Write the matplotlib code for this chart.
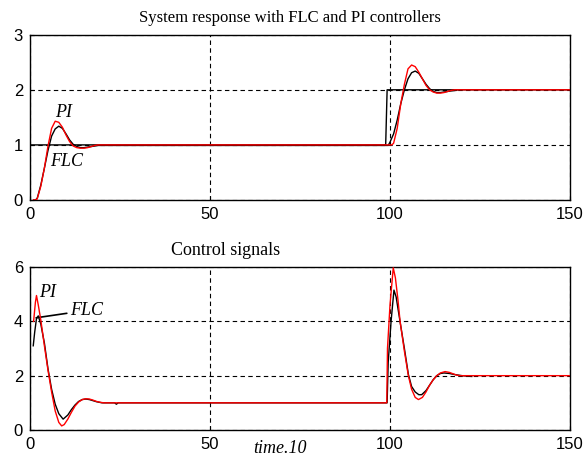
import matplotlib
matplotlib.use("Agg")
import matplotlib.pyplot as plt

# ---------------- data ----------------
# Top: system response
t_pi_top = [1, 1.6, 2, 3, 4, 5, 6, 7, 8, 9, 10, 11, 12, 13, 14, 15, 16, 17, 18, 19, 20,
            99.5, 100.5, 101, 102, 103, 104, 105, 106, 107, 108, 109, 110, 111, 112, 113,
            114, 115, 116, 117, 118, 150]
y_pi_top = [0, 0, 0.02, 0.25, 0.58, 0.98, 1.3, 1.43, 1.41, 1.32, 1.18, 1.06, 0.98, 0.95,
            0.94, 0.94, 0.95, 0.97, 0.99, 1.0, 1.0,
            1.0, 1.0, 1.03, 1.3, 1.75, 2.1, 2.38, 2.45, 2.42, 2.32, 2.2, 2.08, 2.0, 1.96,
            1.94, 1.94, 1.95, 1.97, 1.99, 2.0, 2.0]

t_flc_top = [1, 1.5, 2, 3, 4, 5, 6, 7, 8, 9, 10, 11, 12, 13, 14, 15, 16, 17, 18, 19, 20, 25,
             99.5, 100, 101, 102, 103, 104, 105, 106, 107, 108, 109, 110, 111, 112, 113,
             114, 115, 116, 117, 118.5]
y_flc_top = [0, 0, 0.03, 0.27, 0.58, 0.9, 1.16, 1.29, 1.34, 1.3, 1.2, 1.09, 1.01, 0.97,
             0.95, 0.95, 0.96, 0.97, 0.98, 0.99, 0.99, 0.99,
             0.99, 1.05, 1.2, 1.45, 1.75, 2.0, 2.2, 2.31, 2.34, 2.3, 2.2, 2.1, 2.02, 1.97,
             1.95, 1.95, 1.96, 1.97, 1.98, 1.99]

t_ref = [0, 98.8, 99.2, 150]
y_ref = [1, 1, 2, 2]

# Bottom: control signals
t_pi_bot = [1, 1.5, 1.8, 2.3, 3.0, 4.0, 5.0, 6.0, 7.0, 8.0, 8.8, 9.5, 10.5, 11.5, 12.5,
            13.5, 14.5, 15.5, 16.5, 17.5, 18.5, 19.5, 20.5,
            99.1, 99.3, 100.0, 100.9, 101.5, 102.2, 102.8, 104.0, 105.1, 106.0, 107.0,
            107.9, 109.0, 110.0, 111.0, 112.0, 113.0, 114.0, 115.3, 116.5, 117.5, 118.5,
            119.5, 150]
u_pi_bot = [4.0, 4.7, 4.95, 4.6, 4.05, 3.1, 2.2, 1.4, 0.7, 0.28, 0.15, 0.2, 0.4, 0.65,
            0.88, 1.03, 1.12, 1.15, 1.14, 1.1, 1.05, 1.02, 1.0,
            1.0, 3.0, 4.6, 5.97, 5.6, 4.8, 4.0, 2.9, 2.0, 1.5, 1.2, 1.12, 1.2, 1.4, 1.65,
            1.85, 2.0, 2.1, 2.15, 2.12, 2.07, 2.02, 2.0, 2.0]

t_flc_bot = [0.9, 1.3, 1.8, 2.3, 3.0, 4.0, 5.0, 6.0, 7.0, 8.0, 9.2, 10.5, 11.5, 12.5, 13.5,
             14.5, 15.5, 16.5, 17.5, 18.5, 20, 23.5, 24, 24.5,
             99.2, 99.5, 100.3, 101.1, 101.7, 102.3, 102.9, 104.0, 105.1, 106.0, 107.0,
             108.0, 108.8, 110.0, 111.0, 112.0, 113.0, 114.0, 115.0, 116.5, 118, 120, 122.7]
u_flc_bot = [3.1, 3.6, 4.1, 4.2, 3.9, 3.2, 2.25, 1.5, 0.95, 0.6, 0.4, 0.55, 0.75, 0.92,
             1.05, 1.12, 1.14, 1.12, 1.08, 1.04, 1.0, 1.0, 0.95, 1.0,
             1.0, 2.5, 4.0, 5.15, 4.9, 4.4, 3.9, 3.0, 2.05, 1.6, 1.4, 1.3, 1.3, 1.45, 1.65,
             1.85, 2.0, 2.08, 2.1, 2.08, 2.04, 2.0, 1.97]

x_ticks = [0, 50, 100, 150]
y_ticks_top = [0, 1, 2, 3]
y_ticks_bot = [0, 2, 4, 6]

title_top = "System response with FLC and PI controllers"
title_bot = "Control signals"
xlabel_txt = "time.10"

# ---------------- figure ----------------
W, H = 583, 459
fig = plt.figure(figsize=(W / 100, H / 100), dpi=100)

serif = "Liberation Serif"
sans = "Liberation Sans"

def px_axes(l, t, r, b):
    return [l / W, 1 - b / H, (r - l) / W, (b - t) / H]

ax1 = fig.add_axes(px_axes(30, 34.7, 570, 200))
ax2 = fig.add_axes(px_axes(30, 267, 570, 430))

for ax, yt in ((ax1, y_ticks_top), (ax2, y_ticks_bot)):
    ax.set_xlim(x_ticks[0], x_ticks[-1])
    ax.set_ylim(yt[0], yt[-1])
    ax.set_xticks(x_ticks)
    ax.set_yticks(yt)
    ax.set_axisbelow(True)
    ax.grid(True, color="k", lw=0.8, linestyle=(0, (4, 3)))
    ax.tick_params(direction="in", length=3, width=0.8, labelsize=12, pad=5,
                   colors="k")
    for lab in ax.get_xticklabels() + ax.get_yticklabels():
        lab.set_fontfamily(sans)
    for s in ax.spines.values():
        s.set_linewidth(1.0)
        s.set_color("k")

# top
ax1.plot(t_ref, y_ref, color="k", lw=1.0, zorder=2)
ax1.plot(t_flc_top, y_flc_top, color="k", lw=1.0, zorder=3)
ax1.plot(t_pi_top, y_pi_top, color="#ff0000", lw=1.0, zorder=4)
ax1.text(7, 1.5, "PI", fontfamily=serif, style="italic", fontsize=13, ha="left",
         va="baseline")
ax1.text(5.6, 0.62, "FLC", fontfamily=serif, style="italic", fontsize=13, ha="left",
         va="baseline")

# bottom
ax2.plot(t_flc_bot, u_flc_bot, color="k", lw=1.0, zorder=3)
ax2.plot(t_pi_bot, u_pi_bot, color="#ff0000", lw=1.0, zorder=4)
ax2.text(2.6, 4.88, "PI", fontfamily=serif, style="italic", fontsize=13, ha="left",
         va="baseline")
ax2.annotate("FLC", xy=(1.7, 4.13), xytext=(11.0, 4.4), fontfamily=serif,
             style="italic", fontsize=13, ha="left", va="center",
             arrowprops=dict(arrowstyle="-", color="k", lw=1.2,
                             shrinkA=0, shrinkB=0))

fig.text(290 / W, 1 - 10 / H, title_top, fontfamily=serif, fontsize=12, ha="center",
         va="top")
fig.text(226 / W, 1 - 242 / H, title_bot, fontfamily=serif, fontsize=13, ha="center",
         va="top")
fig.text(253 / W, 1 - 440 / H, xlabel_txt, fontfamily=serif, style="italic",
         fontsize=13, ha="left", va="top")

fig.savefig("out.png", dpi=100, facecolor="white")
